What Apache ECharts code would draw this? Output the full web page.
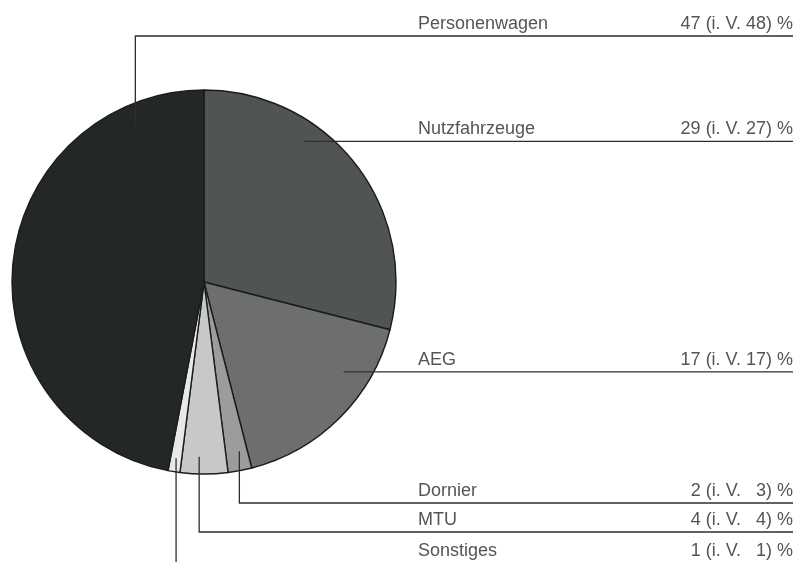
<!DOCTYPE html>
<html><head><meta charset="utf-8">
<script src="https://cdn.jsdelivr.net/npm/echarts@6/dist/echarts.min.js"></script>
<style>html,body{margin:0;padding:0;background:#fff}#c{width:796px;height:562px}</style>
</head><body><div id="c"></div>
<script>
// ---- data (clockwise from 12 o'clock) ----
const categories = ['Nutzfahrzeuge', 'AEG', 'Dornier', 'MTU', 'Sonstiges', 'Personenwagen'];
const shares     = [29, 17, 2, 4, 1, 47];      // current year, %
const prevShares = [27, 17, 3, 4, 1, 48];      // previous year (i. V.), %

// ---- styling / layout config ----
const colors = ['#505453', '#6c6f6e', '#9b9d9c', '#c7c9c8', '#e7e8e8', '#242727'];
const anchorFrac = [0.34, 0.30, 0.36, 0.61, 0.5, 0.86];  // where inside each slice the leader starts
const anchorR    = [0.90, 0.865, 0.90, 0.91, 0.93, 0.89];
const lineKind   = ['h', 'h', 'v', 'v', 'v', 'v'];
const lineY      = [0, 0, 503, 532, 563, 36];
const CX = 204, CY = 282, R = 192, LX = 418, RX = 793;

const total = shares.reduce((a, b) => a + b, 0);
const starts = []; let acc = 0; shares.forEach(v => { starts.push(acc); acc += v; });

function anchorPt(i) {
  const a = (starts[i] + anchorFrac[i] * shares[i]) / total * 2 * Math.PI;
  const r = R * anchorR[i];
  return [CX + r * Math.sin(a), CY - r * Math.cos(a)];
}
function leaderY(i) { return lineKind[i] === 'h' ? anchorPt(i)[1] : lineY[i]; }
function leaderPts(i) {
  const a = anchorPt(i), ly = leaderY(i);
  return lineKind[i] === 'h' ? [a, [RX, ly]] : [a, [a[0], ly], [RX, ly]];
}
function pad(n) { return n < 10 ? '  ' + n : '' + n; }

const chart = echarts.init(document.getElementById('c'), null, {renderer: 'canvas'});
chart.setOption({
  animation: false,
  backgroundColor: '#ffffff',
  series: [{
    type: 'pie',
    center: [CX, CY],
    radius: R,
    startAngle: 90,
    clockwise: true,
    avoidLabelOverlap: false,
    emphasis: {disabled: true},
    itemStyle: {borderColor: '#1c1c1c', borderWidth: 1.4},
    data: categories.map((c, i) => ({
      name: c, value: shares[i], itemStyle: {color: colors[i]}
    })),
    label: {
      show: true,
      position: 'outside',
      formatter: p => '{n|' + p.name + '}{v|' + shares[p.dataIndex] + ' (i. V. ' + pad(prevShares[p.dataIndex]) + ') %}',
      rich: {
        n: {width: 220, align: 'left', fontFamily: 'Liberation Sans', fontSize: 18, color: '#555555'},
        v: {width: 155, align: 'right', fontFamily: 'Liberation Sans', fontSize: 18, color: '#555555'}
      }
    },
    labelLine: {show: false},
    labelLayout: function (params) {
      const i = params.dataIndex;
      return {x: LX, y: leaderY(i) - 12, align: 'left', verticalAlign: 'middle'};
    }
  }],
  graphic: categories.map((c, i) => ({
    type: 'polyline',
    z: 100,
    silent: true,
    shape: {points: leaderPts(i)},
    style: {stroke: '#2e2e2e', lineWidth: 1.3, fill: null}
  }))
});
</script>
</body></html>
